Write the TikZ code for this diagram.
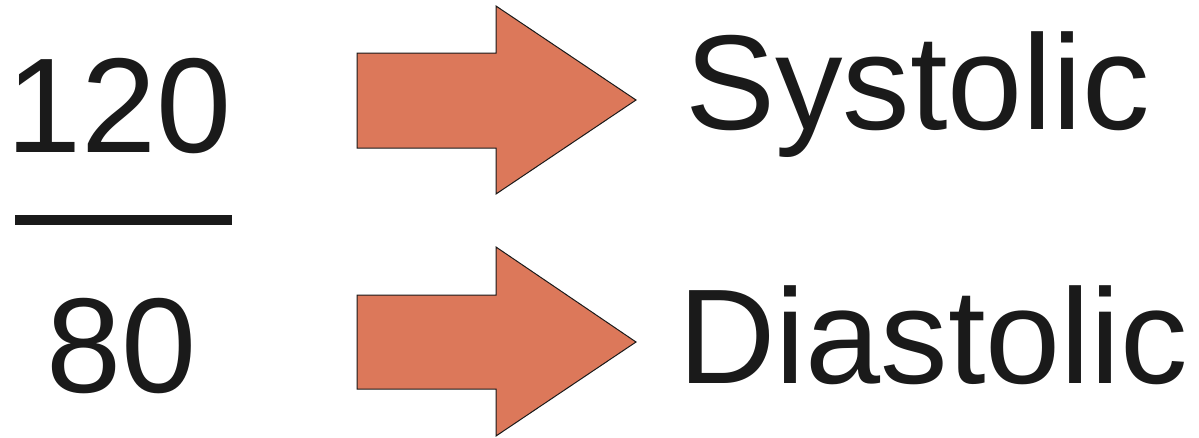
\documentclass[tikz,border=0pt]{standalone}
\usepackage{fontspec}
\setmainfont{Liberation Sans}
\definecolor{arrowfill}{HTML}{DC785A}
\definecolor{ink}{HTML}{1A1A1A}
\begin{document}
\begin{tikzpicture}[x=1pt,y=-1pt,
  big/.style={anchor=base west,inner sep=0pt,text=ink,font=\fontsize{135}{160}\selectfont},
  fatarrow/.style={fill=arrowfill,draw=ink,line width=1pt,line join=miter}]
\useasboundingbox (0,0) rectangle (1199,437);
% numbers
\node[big] (sys) at (6,152) {120};
\node[big] (dia) at (46,392) {80};
\fill[ink] (15,215) rectangle (232,225);
% arrows
\draw[fatarrow] (357,53) -- (496,53) -- (496,6) -- (636,100) -- (496,194) -- (496,148) -- (357,148) -- cycle;
\draw[fatarrow] (357,295) -- (496,295) -- (496,247) -- (636,342) -- (496,436) -- (496,389) -- (357,389) -- cycle;
% labels
\node[big] (systolic) at (685,129) {Systolic};
\node[big] (diastolic) at (678,383) {Diastolic};
\end{tikzpicture}
\end{document}
